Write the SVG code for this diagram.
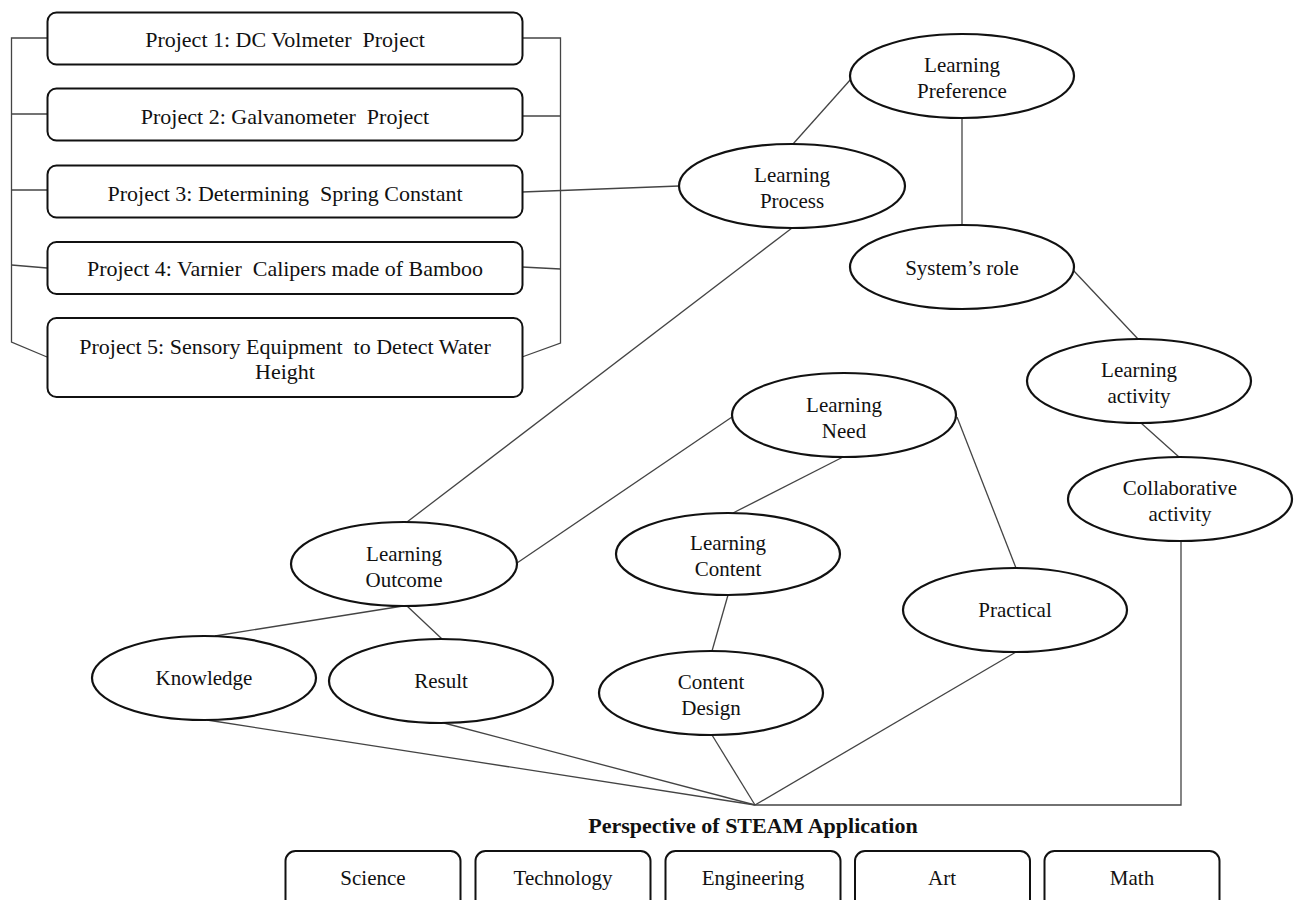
<svg xmlns="http://www.w3.org/2000/svg" width="1296" height="900" viewBox="0 0 1296 900">
<style>
  text { font-family: "Liberation Serif", "Times New Roman", serif; font-size: 21px; fill: #111; text-anchor: middle; white-space: pre; }
  .proj { font-size: 22px; }
  .box { fill: #fff; stroke: #111; stroke-width: 2; }
  .ell { fill: #fff; stroke: #111; stroke-width: 2.2; }
  .conn line, .conn polyline { stroke: #444; stroke-width: 1.3; fill: none; }
  .title { font-weight: bold; font-size: 22px; }
</style>
<rect width="1296" height="900" fill="#fff"/>

<g id="connectors" class="conn">
  <!-- brackets -->
  <polyline points="47,38 11.5,38 11.5,342 47,357"/>
  <line x1="11.5" y1="114" x2="47" y2="114"/>
  <line x1="11.5" y1="190" x2="47" y2="190"/>
  <line x1="11.5" y1="265" x2="47" y2="268"/>
  <polyline points="522,38 560.5,38 560.5,343 522,357"/>
  <line x1="522" y1="116" x2="560.5" y2="116"/>
  <line x1="522" y1="267" x2="560.5" y2="269"/>
  <line x1="522" y1="192" x2="679" y2="186"/>
  <!-- graph -->
  <line x1="793" y1="144" x2="851" y2="79"/>
  <line x1="962" y1="118" x2="962" y2="225"/>
  <line x1="1073" y1="270" x2="1138" y2="339"/>
  <line x1="1141" y1="423" x2="1179" y2="457"/>
  <line x1="792" y1="228" x2="407" y2="522"/>
  <line x1="732" y1="417" x2="517" y2="563"/>
  <line x1="843" y1="457" x2="733" y2="513"/>
  <line x1="957" y1="417" x2="1016" y2="568"/>
  <line x1="728" y1="595" x2="712" y2="651"/>
  <line x1="403" y1="606" x2="215" y2="636"/>
  <line x1="407" y1="606" x2="442" y2="639"/>
  <line x1="207" y1="720" x2="755" y2="805"/>
  <line x1="444" y1="723" x2="755" y2="805"/>
  <line x1="712" y1="735" x2="755" y2="805"/>
  <line x1="1016" y1="652" x2="755" y2="805"/>
  <polyline points="1181,541 1181,805 755,805"/>
</g>

<g id="project1"><rect class="box" x="47.5" y="12.5" width="475" height="52" rx="9"/><text class="proj" x="285" y="47">Project 1: DC Volmeter  Project</text></g>
<g id="project2"><rect class="box" x="47.5" y="88.5" width="475" height="52" rx="9"/><text class="proj" x="285" y="124">Project 2: Galvanometer  Project</text></g>
<g id="project3"><rect class="box" x="47.5" y="165.5" width="475" height="52" rx="9"/><text class="proj" x="285" y="201">Project 3: Determining  Spring Constant</text></g>
<g id="project4"><rect class="box" x="47.5" y="242" width="475" height="52" rx="9"/><text class="proj" x="285" y="276">Project 4: Varnier  Calipers made of Bamboo</text></g>
<g id="project5"><rect class="box" x="47.5" y="318" width="475" height="79" rx="9"/><text class="proj" x="285" y="354">Project 5: Sensory Equipment  to Detect Water</text><text class="proj" x="285" y="379">Height</text></g>

<g id="learning-preference"><ellipse class="ell" cx="962" cy="76" rx="112" ry="42"/><text x="962" y="72">Learning</text><text x="962" y="98">Preference</text></g>
<g id="learning-process"><ellipse class="ell" cx="792" cy="186" rx="113" ry="42"/><text x="792" y="182">Learning</text><text x="792" y="208">Process</text></g>
<g id="systems-role"><ellipse class="ell" cx="962" cy="267" rx="112" ry="42"/><text x="962" y="275">System’s role</text></g>
<g id="learning-activity"><ellipse class="ell" cx="1139" cy="381" rx="112" ry="42"/><text x="1139" y="377">Learning</text><text x="1139" y="403">activity</text></g>
<g id="collaborative-activity"><ellipse class="ell" cx="1180" cy="499" rx="112" ry="42"/><text x="1180" y="495">Collaborative</text><text x="1180" y="521">activity</text></g>
<g id="learning-need"><ellipse class="ell" cx="844" cy="415" rx="112" ry="42"/><text x="844" y="412">Learning</text><text x="844" y="438">Need</text></g>
<g id="learning-outcome"><ellipse class="ell" cx="404" cy="564" rx="113" ry="42"/><text x="404" y="561">Learning</text><text x="404" y="587">Outcome</text></g>
<g id="learning-content"><ellipse class="ell" cx="728" cy="554" rx="112" ry="41"/><text x="728" y="550">Learning</text><text x="728" y="576">Content</text></g>
<g id="content-design"><ellipse class="ell" cx="711" cy="693" rx="112" ry="42"/><text x="711" y="689">Content</text><text x="711" y="715">Design</text></g>
<g id="practical"><ellipse class="ell" cx="1015" cy="610" rx="112" ry="42"/><text x="1015" y="617">Practical</text></g>
<g id="knowledge"><ellipse class="ell" cx="204" cy="678" rx="112" ry="42"/><text x="204" y="685">Knowledge</text></g>
<g id="result"><ellipse class="ell" cx="441" cy="681" rx="112" ry="42"/><text x="441" y="688">Result</text></g>

<g id="steam-title"><text class="title" x="753" y="833">Perspective of STEAM Application</text></g>
<g id="science"><rect class="box" x="285.5" y="851" width="175" height="70" rx="10"/><text x="373" y="885">Science</text></g>
<g id="technology"><rect class="box" x="475.5" y="851" width="175" height="70" rx="10"/><text x="563" y="885">Technology</text></g>
<g id="engineering"><rect class="box" x="665.5" y="851" width="175" height="70" rx="10"/><text x="753" y="885">Engineering</text></g>
<g id="art"><rect class="box" x="855" y="851" width="175" height="70" rx="10"/><text x="942" y="885">Art</text></g>
<g id="math"><rect class="box" x="1044.5" y="851" width="175" height="70" rx="10"/><text x="1132" y="885">Math</text></g>
</svg>
